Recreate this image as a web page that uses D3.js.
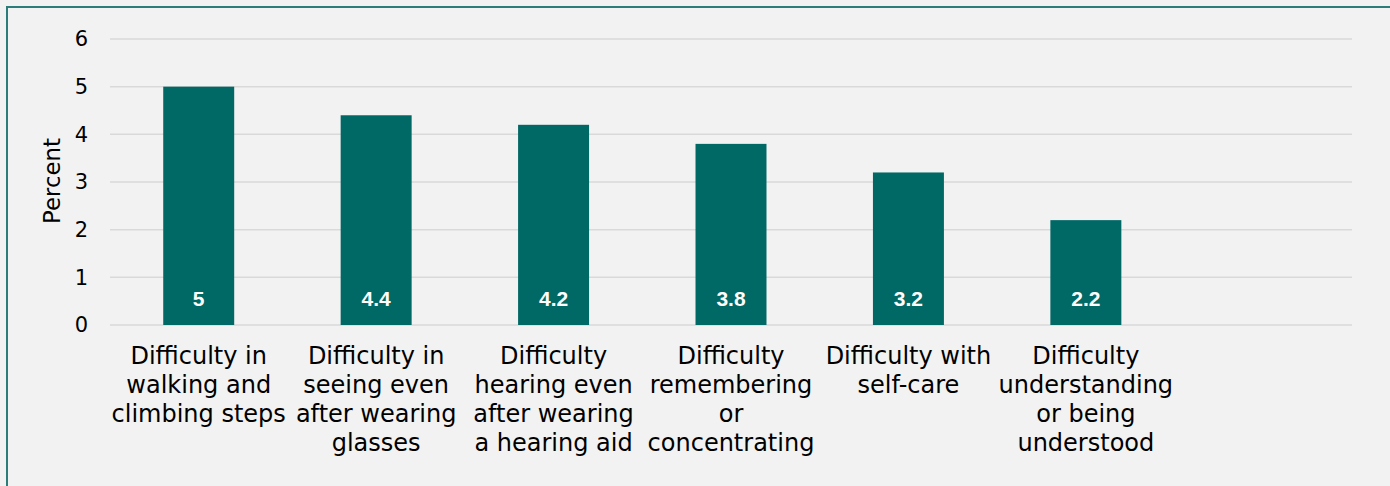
<!DOCTYPE html>
<html>
<head>
<meta charset="utf-8">
<script src="https://cdn.jsdelivr.net/npm/d3@7"></script>
<style>
  body { margin: 0; background: #f2f2f2; }
  svg { display: block; }
  .axis text { font-family: 'DejaVu Sans', Verdana, sans-serif; fill: #000; }
</style>
</head>
<body>
<svg id="chart"></svg>
<script>
const categories = [
  'Difficulty in walking and climbing steps',
  'Difficulty in seeing even after wearing glasses',
  'Difficulty hearing even after wearing a hearing aid',
  'Difficulty remembering or concentrating',
  'Difficulty with self-care',
  'Difficulty understanding or being understood'
];
const values = [5, 4.4, 4.2, 3.8, 3.2, 2.2];
const yTicks = [0, 1, 2, 3, 4, 5, 6];

const width = 1390;
const height = 486;
const margin = { top: 39, bottom: 161, left: 110, right: 38 };

const svg = d3.select('#chart')
  .attr('width', width)
  .attr('height', height);

svg.append('rect')
  .attr('x', 0).attr('y', 0)
  .attr('width', width).attr('height', height)
  .attr('fill', '#f2f2f2');

// outer frame (only top and left edges fall inside the picture)
svg.append('path')
  .attr('d', `M7,${height} V7 H${width}`)
  .attr('fill', 'none')
  .attr('stroke', '#2a7d78')
  .attr('stroke-width', 2);

const innerWidth = width - margin.left - margin.right;
const innerHeight = height - margin.top - margin.bottom;

const g = svg.append('g')
  .attr('transform', `translate(${margin.left}, ${margin.top})`);

// one empty slot at the end, as in the original layout
const xScale = d3.scaleBand()
  .domain([...categories, ''])
  .range([0, innerWidth])
  .paddingInner(0.6)
  .paddingOuter(0.3);

const yScale = d3.scaleLinear()
  .domain([0, 6])
  .range([innerHeight, 0]);

g.append('g')
  .attr('class', 'grid')
  .selectAll('line')
  .data(yTicks)
  .enter().append('line')
    .attr('x1', 0)
    .attr('x2', innerWidth)
    .attr('y1', d => yScale(d))
    .attr('y2', d => yScale(d))
    .attr('stroke', '#d9d9d9')
    .attr('stroke-width', 1.5);

const yAxis = g.append('g')
  .attr('class', 'axis axis--y')
  .call(d3.axisLeft(yScale)
          .tickValues(yTicks)
          .tickFormat(d3.format('d'))
          .tickSize(0)
          .tickPadding(22));
yAxis.select('.domain').remove();
yAxis.selectAll('text').attr('font-size', 21);

g.append('text')
  .attr('transform', `translate(${52 - margin.left}, ${innerHeight / 2 - 1}) rotate(-90)`)
  .attr('text-anchor', 'middle')
  .attr('dy', '0.35em')
  .attr('font-family', "'DejaVu Sans', Verdana, sans-serif")
  .attr('font-size', 22.8)
  .text('Percent');

const data = categories.map((c, i) => ({ category: c, value: values[i] }));

g.selectAll('.bar')
  .data(data)
  .enter().append('rect')
    .attr('class', 'bar')
    .attr('x', d => xScale(d.category))
    .attr('y', d => yScale(d.value))
    .attr('width', xScale.bandwidth())
    .attr('height', d => innerHeight - yScale(d.value))
    .attr('fill', '#006865');

g.selectAll('.value')
  .data(data)
  .enter().append('text')
    .attr('class', 'value')
    .attr('x', d => xScale(d.category) + xScale.bandwidth() / 2)
    .attr('y', innerHeight - 19.5)
    .attr('text-anchor', 'middle')
    .attr('font-family', "'Liberation Sans', Arial, sans-serif")
    .attr('font-weight', 'bold')
    .attr('font-size', 21)
    .attr('fill', '#fff')
    .text(d => d.value);

const xAxis = g.append('g')
  .attr('class', 'axis axis--x')
  .attr('transform', `translate(0, ${innerHeight})`)
  .call(d3.axisBottom(xScale).tickSize(0).tickPadding(0));
xAxis.select('.domain').remove();
xAxis.selectAll('text')
  .attr('dy', null)
  .attr('font-size', 24)
  .call(wrap, xScale.step());

function wrap(texts, maxWidth) {
  texts.each(function () {
    const text = d3.select(this);
    const words = text.text().split(/\s+/).filter(w => w);
    text.text(null);
    let line = [];
    let lineNo = 0;
    let tspan = text.append('tspan').attr('x', 0).attr('y', 39);
    words.forEach(word => {
      line.push(word);
      tspan.text(line.join(' '));
      if (line.length > 1 && tspan.node().getComputedTextLength() > maxWidth) {
        line.pop();
        tspan.text(line.join(' '));
        line = [word];
        lineNo += 1;
        tspan = text.append('tspan')
          .attr('x', 0)
          .attr('y', 39 + lineNo * 29)
          .text(word);
      }
    });
  });
}
</script>
</body>
</html>
